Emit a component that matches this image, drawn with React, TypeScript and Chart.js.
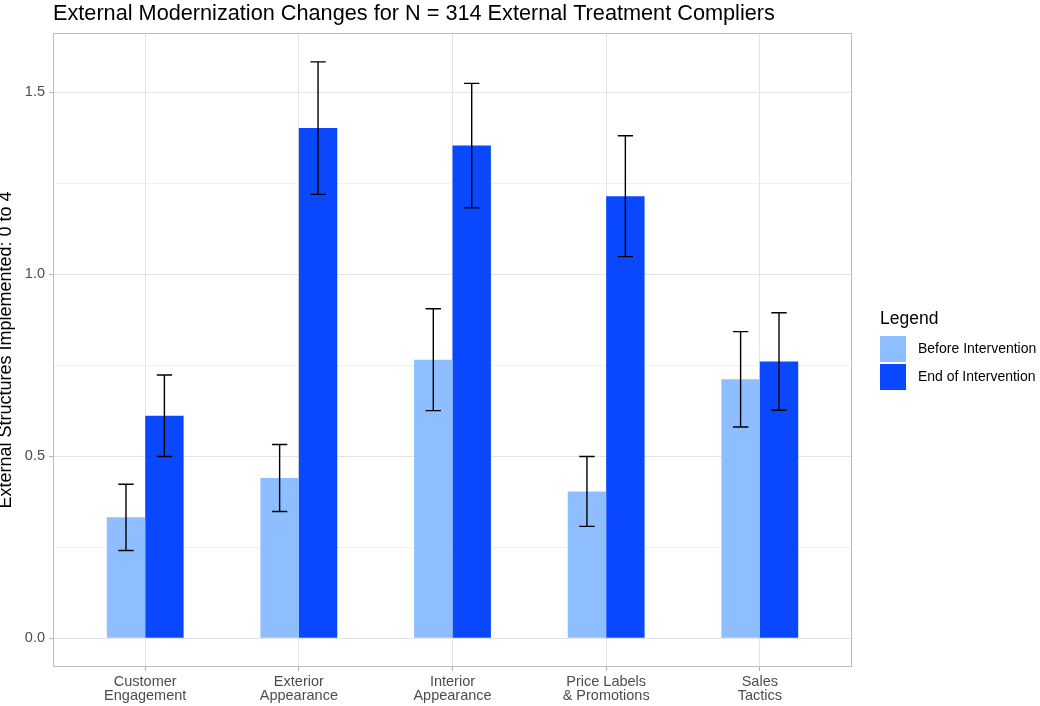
import { useEffect, useRef } from 'react';
import { Chart, registerables } from 'chart.js';

Chart.register(...registerables);

// Category labels (line breaks mark the two-line axis labels)
const categories = [
  'Customer\nEngagement',
  'Exterior\nAppearance',
  'Interior\nAppearance',
  'Price Labels\n& Promotions',
  'Sales\nTactics',
];

const seriesNames = ['Before Intervention', 'End of Intervention'];
const seriesColors = ['#8EBEFF', '#0A48FF'];

// Means and standard errors per category
const beforeMeans = [0.332, 0.44, 0.765, 0.403, 0.711];
const beforeErr = [0.091, 0.092, 0.14, 0.096, 0.131];
const endMeans = [0.611, 1.401, 1.353, 1.214, 0.76];
const endErr = [0.112, 0.182, 0.171, 0.166, 0.134];

// Y gridline positions; labelled ones are the major breaks
const yTicks = [0, 0.25, 0.5, 0.75, 1, 1.25, 1.5];
const yMajorTicks = [0, 0.5, 1, 1.5];

const titleText = 'External Modernization Changes for N = 314 External Treatment Compliers';
const yTitleText = 'External Structures Implemented: 0 to 4';
const legendTitleText = 'Legend';

const FONT = '"Liberation Sans", Arial, Helvetica, sans-serif';

const seriesMeans = [beforeMeans, endMeans];
const seriesErrs = [beforeErr, endErr];

const isMajor = (v: number) => yMajorTicks.some((m) => Math.abs(m - v) < 1e-9);

export default function App() {
  const canvasRef = useRef<HTMLCanvasElement | null>(null);

  useEffect(() => {
    const canvas = canvasRef.current;
    if (!canvas) return;

    // y range: 0 up to the highest error bar, padded 5% on each side
    const upper = Math.max(
      ...seriesMeans.flatMap((m, s) => m.map((v, i) => v + seriesErrs[s][i]))
    );
    const pad = upper * 0.05;

    const errorBars = {
      id: 'errorBars',
      afterDatasetsDraw(chart: any) {
        const { ctx } = chart;
        const yScale = chart.scales.y;
        ctx.save();
        ctx.strokeStyle = '#000000';
        ctx.lineWidth = 1.4;
        chart.data.datasets.forEach((_ds: any, di: number) => {
          const meta = chart.getDatasetMeta(di);
          meta.data.forEach((bar: any, i: number) => {
            const v = seriesMeans[di][i];
            const e = seriesErrs[di][i];
            const top = yScale.getPixelForValue(v + e);
            const bot = yScale.getPixelForValue(v - e);
            const half = bar.width * 0.2;
            ctx.beginPath();
            ctx.moveTo(bar.x, top);
            ctx.lineTo(bar.x, bot);
            ctx.moveTo(bar.x - half, top);
            ctx.lineTo(bar.x + half, top);
            ctx.moveTo(bar.x - half, bot);
            ctx.lineTo(bar.x + half, bot);
            ctx.stroke();
          });
        });
        ctx.restore();
      },
    };

    const panelBorder = {
      id: 'panelBorder',
      afterDatasetsDraw(chart: any) {
        const { ctx, chartArea: a } = chart;
        ctx.save();
        ctx.strokeStyle = '#bdbdbd';
        ctx.lineWidth = 1;
        ctx.strokeRect(
          Math.round(a.left) + 0.5,
          Math.round(a.top) + 0.5,
          Math.round(a.right - a.left) - 1,
          Math.round(a.bottom - a.top) - 1
        );
        ctx.restore();
      },
    };

    const sideLegend = {
      id: 'sideLegend',
      afterDraw(chart: any) {
        const { ctx, chartArea: a } = chart;
        const x = a.right + 28;
        const midY = (a.top + a.bottom) / 2;
        ctx.save();
        ctx.fillStyle = '#000000';
        ctx.font = `17.5px ${FONT}`;
        ctx.textAlign = 'left';
        ctx.textBaseline = 'alphabetic';
        ctx.fillText(legendTitleText, x, midY - 26);
        ctx.font = `14px ${FONT}`;
        ctx.textBaseline = 'middle';
        chart.data.datasets.forEach((ds: any, i: number) => {
          const top = midY - 14 + i * 28;
          ctx.fillStyle = ds.backgroundColor;
          ctx.fillRect(x, top, 26, 26);
          ctx.fillStyle = '#000000';
          ctx.fillText(ds.label, x + 38, top + 13);
        });
        ctx.restore();
      },
    };

    const chart = new Chart(canvas, {
      type: 'bar',
      data: {
        datasets: seriesNames.map((name, s) => ({
          label: name,
          data: seriesMeans[s].map((v, i) => ({ x: i + 1, y: v })),
          backgroundColor: seriesColors[s],
          borderWidth: 0,
          categoryPercentage: 0.5,
          barPercentage: 1,
        })),
      },
      options: {
        responsive: false,
        animation: false,
        devicePixelRatio: 1,
        layout: { padding: { left: 0, right: 188, top: 0, bottom: 0 } },
        plugins: {
          legend: { display: false },
          tooltip: { enabled: false },
          title: {
            display: true,
            text: titleText,
            align: 'start',
            fullSize: false,
            color: '#000000',
            font: { family: FONT, size: 21.7, weight: 'normal', lineHeight: 1.2 },
            padding: { top: 1.4, bottom: 5.6 },
          },
        },
        scales: {
          x: {
            type: 'linear',
            min: 0.4,
            max: 5.6,
            offset: false,
            afterBuildTicks: (scale: any) => {
              scale.ticks = categories.map((_c, i) => ({ value: i + 1 }));
            },
            afterFit: (scale: any) => {
              scale.height = 39;
            },
            ticks: {
              autoSkip: false,
              maxRotation: 0,
              padding: 4,
              color: '#4d4d4d',
              font: { family: FONT, size: 14.5, lineHeight: 0.95 },
              callback: (value: any) => {
                const label = categories[Math.round(Number(value)) - 1];
                return label ? label.split('\n') : '';
              },
            },
            grid: {
              offset: false,
              color: '#e3e3e3',
              lineWidth: 1,
              tickColor: '#b3b3b3',
              tickLength: 4,
            },
            border: { display: false },
          },
          y: {
            type: 'linear',
            min: -pad,
            max: upper + pad,
            afterBuildTicks: (scale: any) => {
              scale.ticks = yTicks.map((v) => ({ value: v }));
            },
            afterFit: (scale: any) => {
              scale.width = 53;
            },
            ticks: {
              autoSkip: false,
              padding: 4,
              color: '#4d4d4d',
              font: { family: FONT, size: 14.5 },
              callback: (value: any) => {
                const v = Number(value);
                return isMajor(v) ? v.toFixed(1) : '';
              },
            },
            grid: {
              lineWidth: 1,
              color: (ctx: any) => (isMajor(ctx.tick ? ctx.tick.value : 0) ? '#e3e3e3' : '#f1f1f1'),
              tickColor: (ctx: any) =>
                isMajor(ctx.tick ? ctx.tick.value : 0) ? '#b3b3b3' : 'rgba(0,0,0,0)',
              tickLength: 4,
            },
            border: { display: false },
            title: {
              display: true,
              text: yTitleText,
              color: '#000000',
              font: { family: FONT, size: 18, lineHeight: 0.7 },
              padding: { top: 0, bottom: 0 },
            },
          },
        },
      },
      plugins: [errorBars, panelBorder, sideLegend],
    } as any);

    return () => {
      chart.destroy();
    };
  }, []);

  return (
    <div
      style={{
        position: 'fixed',
        left: 0,
        top: 0,
        width: 1040,
        height: 706,
        background: '#ffffff',
      }}
    >
      <canvas ref={canvasRef} width={1040} height={706} style={{ display: 'block' }} />
    </div>
  );
}
